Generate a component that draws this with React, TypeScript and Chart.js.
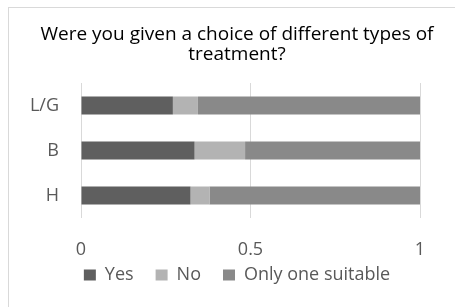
import React, { useEffect, useRef } from "react";
import { Chart, registerables } from "chart.js";

Chart.register(...registerables);

const categories = ["L/G", "B", "H"];
const seriesNames = ["Yes", "No", "Only one suitable"];
const yesValues = [0.271, 0.335, 0.323];
const noValues = [0.074, 0.149, 0.056];
const onlyOneValues = [0.655, 0.516, 0.621];
const xTicks = [0, 0.5, 1];
const titleLines = ["Were you given a choice of different types of", "treatment?"];

const colors = ["#5f5f5f", "#b3b3b3", "#898989"];
const FONT = "'Open Sans', sans-serif";

const noLabelClip = (scale: any) => {
  scale._computeLabelArea = () => undefined;
};

export default function App() {
  const ref = useRef<HTMLCanvasElement | null>(null);
  useEffect(() => {
    if (!ref.current) return;
    const data = [yesValues, noValues, onlyOneValues];
    const chart = new Chart(ref.current, {
      type: "bar",
      data: {
        labels: categories,
        datasets: seriesNames.map((name, i) => ({
          label: name,
          data: data[i],
          backgroundColor: colors[i],
          borderWidth: 0,
          categoryPercentage: 0.4,
          barPercentage: 1,
          yAxisID: "y",
        })),
      },
      options: {
        indexAxis: "y",
        animation: false,
        responsive: false,
        maintainAspectRatio: false,
        layout: { padding: { left: 10, right: 0, top: 0, bottom: 13 } },
        scales: {
          x: {
            stacked: true,
            min: 0,
            max: 1,
            afterBuildTicks: (scale: any) => {
              scale.ticks = xTicks.map((v) => ({ value: v }));
            },
            afterFit: (scale: any) => {
              scale.height = 26;
              noLabelClip(scale);
            },
            grid: { color: "#d9d9d9", lineWidth: 1, drawTicks: false },
            border: { display: false },
            ticks: {
              color: "#595959",
              font: { family: FONT, size: 18 },
              padding: 21,
              maxRotation: 0,
              callback: (v: any) => String(v),
            },
          },
          y: {
            stacked: true,
            position: "left",
            afterFit: (scale: any) => {
              scale.width = 62;
              noLabelClip(scale);
            },
            grid: { display: false, drawTicks: false },
            border: { display: false },
            ticks: {
              color: "#595959",
              font: { family: FONT, size: 18 },
              padding: 22,
            },
          },
          yRight: {
            type: "category",
            position: "right",
            afterFit: (scale: any) => {
              scale.width = 35;
            },
            grid: { display: false, drawTicks: false },
            border: { display: false },
            ticks: { display: false },
          },
        },
        plugins: {
          title: {
            display: true,
            text: titleLines,
            color: "#000000",
            font: { family: FONT, size: 19, weight: "normal", lineHeight: 20 / 19 },
            padding: { top: 16.4, bottom: 18.6 },
          },
          legend: {
            position: "bottom",
            labels: {
              color: "#595959",
              font: { family: FONT, size: 18 },
              boxWidth: 12,
              boxHeight: 11,
              padding: 22,
            },
          },
          tooltip: { enabled: false },
        },
      },
    });
    return () => chart.destroy();
  }, []);
  return (
    <div
      style={{
        position: "absolute",
        left: 8,
        top: 7,
        width: 447,
        height: 300,
        borderLeft: "1px solid #d9d9d9",
        borderTop: "1px solid #d9d9d9",
        background: "#fff",
      }}
    >
      <canvas ref={ref} width={446} height={299} style={{ display: "block" }} />
    </div>
  );
}
